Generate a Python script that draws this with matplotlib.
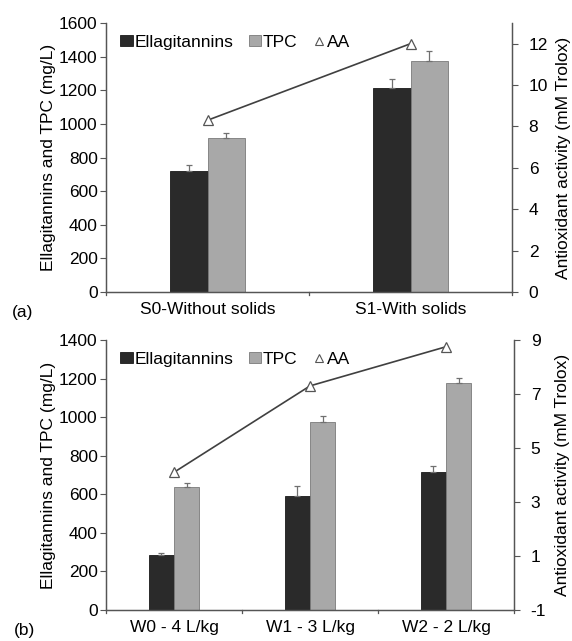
import matplotlib
matplotlib.use("Agg")
import matplotlib.pyplot as plt
import numpy as np
from matplotlib.lines import Line2D
from matplotlib.patches import Patch

plt.rcParams['font.family'] = ['Liberation Sans', 'DejaVu Sans']
plt.rcParams['axes.unicode_minus'] = False

# Panel (a)
cats_a = ["S0-Without solids", "S1-With solids"]
ell_a = [718, 1212]
ell_a_err = [35, 55]
tpc_a = [915, 1372]
tpc_a_err = [28, 62]
aa_a = [8.3, 12.0]

# Panel (b)
cats_b = ["W0 - 4 L/kg", "W1 - 3 L/kg", "W2 - 2 L/kg"]
ell_b = [283, 591, 718]
ell_b_err = [10, 52, 30]
tpc_b = [638, 973, 1177]
tpc_b_err = [22, 32, 24]
aa_b = [4.1, 7.3, 8.75]

W, H = 572, 641
dpi = 100
fig = plt.figure(figsize=(W / dpi, H / dpi), dpi=dpi)

FS = 12.5
dark = "#2a2a2a"
light = "#a8a8a8"
errc = "#707070"
linec = "#404040"

def panel(rect, cats, ell, ell_err, tpc, tpc_err, aa, ylim, yticks, y2lim, y2ticks, tag):
    ax = fig.add_axes(rect)
    x = np.arange(len(cats))
    w = 0.185
    ax.bar(x - w / 2, ell, w, color=dark, edgecolor="#1a1a1a", linewidth=0.6, zorder=2)
    ax.bar(x + w / 2, tpc, w, color=light, edgecolor="#7a7a7a", linewidth=0.6, zorder=2)
    ax.errorbar(x - w / 2, ell, yerr=[np.zeros(len(ell)), ell_err], fmt="none",
                ecolor=errc, elinewidth=0.9, capsize=2.5, capthick=0.9, zorder=3)
    ax.errorbar(x + w / 2, tpc, yerr=[np.zeros(len(tpc)), tpc_err], fmt="none",
                ecolor=errc, elinewidth=0.9, capsize=2.5, capthick=0.9, zorder=3)
    ax.set_xlim(-0.5, len(cats) - 0.5)
    ax.set_ylim(*ylim)
    ax.set_yticks(yticks)
    ax.set_xticks(x)
    ax.set_xticklabels(cats, fontsize=FS)
    ax.tick_params(axis="x", length=0, pad=7)
    for b in np.arange(len(cats) + 1) - 0.5:
        ax.plot([b, b], [0, -0.012], transform=ax.get_xaxis_transform(), color="#555555",
                lw=0.9, clip_on=False)
    ax.tick_params(axis="y", labelsize=FS, length=4, width=0.8, color="#555555", pad=2)
    ax.set_ylabel("Ellagitannins and TPC (mg/L)", fontsize=FS, labelpad=2)
    ax.spines["top"].set_visible(False)
    for s in ["left", "bottom", "right"]:
        ax.spines[s].set_color("#555555")
        ax.spines[s].set_linewidth(0.9)

    ax2 = ax.twinx()
    ax2.plot(x, aa, color=linec, lw=1.2, marker="^", markersize=7,
             markerfacecolor="white", markeredgecolor="#555555", markeredgewidth=0.9, zorder=4)
    ax2.set_ylim(*y2lim)
    ax2.set_yticks(y2ticks)
    ax2.tick_params(axis="y", labelsize=FS, length=4, width=0.8, color="#555555", pad=8)
    ax2.set_ylabel("Antioxidant activity (mM Trolox)", fontsize=FS, labelpad=6)
    ax2.spines["top"].set_visible(False)
    for s in ["left", "bottom", "right"]:
        ax2.spines[s].set_color("#555555")
        ax2.spines[s].set_linewidth(0.9)

    handles = [Patch(facecolor=dark, edgecolor="#1a1a1a", linewidth=0.6),
               Patch(facecolor=light, edgecolor="#7a7a7a", linewidth=0.6),
               Line2D([], [], color="none", marker="^", markersize=6,
                      markerfacecolor="white", markeredgecolor="#555555", markeredgewidth=0.8)]
    ax2.legend(handles, ["Ellagitannins", "TPC", "AA"], loc="upper left",
               bbox_to_anchor=(0.01, 0.995), ncol=3, frameon=False, fontsize=FS,
               handlelength=0.7, handleheight=0.55, handletextpad=0.1, columnspacing=0.9,
               borderaxespad=0.2)
    fig.text(tag[0] / W, 1 - tag[1] / H, tag[2], fontsize=FS, va="center", ha="left")
    return ax, ax2

panel([106 / W, 1 - 292 / H, (512 - 106) / W, (292 - 23) / H],
      cats_a, ell_a, ell_a_err, tpc_a, tpc_a_err, aa_a,
      (0, 1600), np.arange(0, 1601, 200), (0, 13), np.arange(0, 13, 2), (12, 312, "(a)"))

panel([106 / W, 1 - 610 / H, (514 - 106) / W, (610 - 340) / H],
      cats_b, ell_b, ell_b_err, tpc_b, tpc_b_err, aa_b,
      (0, 1400), np.arange(0, 1401, 200), (-1, 9), np.arange(-1, 10, 2), (14, 631, "(b)"))

fig.savefig("out.png", dpi=dpi)
